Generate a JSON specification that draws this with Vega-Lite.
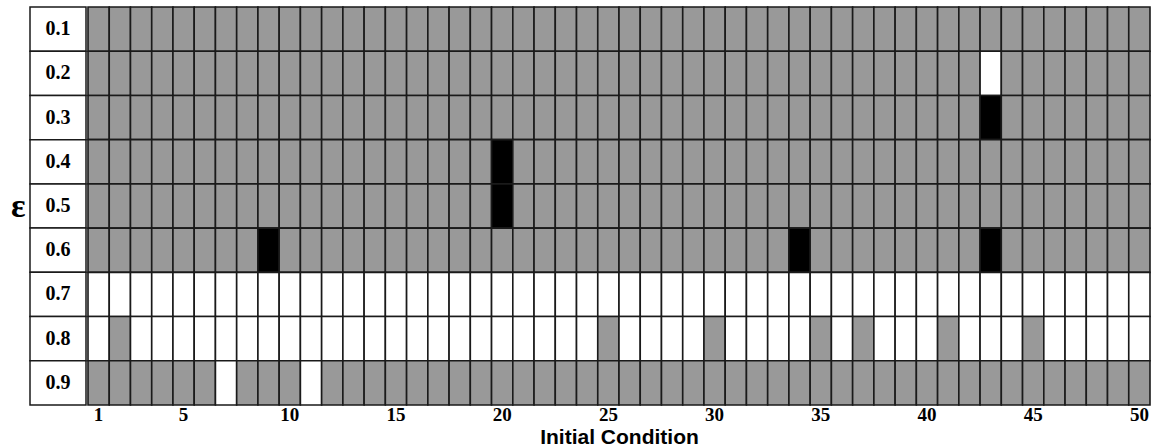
{
"$schema": "https://vega.github.io/schema/vega-lite/v6.json",
"padding": {"left": 10, "top": 6, "right": 0, "bottom": 0},
"spacing": 0,
"config": {"view": {"stroke": null}},
"datasets": {
"labels": [{"eps":"0.1"},{"eps":"0.2"},{"eps":"0.3"},{"eps":"0.4"},{"eps":"0.5"},{"eps":"0.6"},{"eps":"0.7"},{"eps":"0.8"},{"eps":"0.9"}],
"cells": [
{"ic":1,"eps":"0.1","state":"G"},{"ic":2,"eps":"0.1","state":"G"},{"ic":3,"eps":"0.1","state":"G"},{"ic":4,"eps":"0.1","state":"G"},{"ic":5,"eps":"0.1","state":"G"},{"ic":6,"eps":"0.1","state":"G"},{"ic":7,"eps":"0.1","state":"G"},{"ic":8,"eps":"0.1","state":"G"},{"ic":9,"eps":"0.1","state":"G"},{"ic":10,"eps":"0.1","state":"G"},
{"ic":11,"eps":"0.1","state":"G"},{"ic":12,"eps":"0.1","state":"G"},{"ic":13,"eps":"0.1","state":"G"},{"ic":14,"eps":"0.1","state":"G"},{"ic":15,"eps":"0.1","state":"G"},{"ic":16,"eps":"0.1","state":"G"},{"ic":17,"eps":"0.1","state":"G"},{"ic":18,"eps":"0.1","state":"G"},{"ic":19,"eps":"0.1","state":"G"},{"ic":20,"eps":"0.1","state":"G"},
{"ic":21,"eps":"0.1","state":"G"},{"ic":22,"eps":"0.1","state":"G"},{"ic":23,"eps":"0.1","state":"G"},{"ic":24,"eps":"0.1","state":"G"},{"ic":25,"eps":"0.1","state":"G"},{"ic":26,"eps":"0.1","state":"G"},{"ic":27,"eps":"0.1","state":"G"},{"ic":28,"eps":"0.1","state":"G"},{"ic":29,"eps":"0.1","state":"G"},{"ic":30,"eps":"0.1","state":"G"},
{"ic":31,"eps":"0.1","state":"G"},{"ic":32,"eps":"0.1","state":"G"},{"ic":33,"eps":"0.1","state":"G"},{"ic":34,"eps":"0.1","state":"G"},{"ic":35,"eps":"0.1","state":"G"},{"ic":36,"eps":"0.1","state":"G"},{"ic":37,"eps":"0.1","state":"G"},{"ic":38,"eps":"0.1","state":"G"},{"ic":39,"eps":"0.1","state":"G"},{"ic":40,"eps":"0.1","state":"G"},
{"ic":41,"eps":"0.1","state":"G"},{"ic":42,"eps":"0.1","state":"G"},{"ic":43,"eps":"0.1","state":"G"},{"ic":44,"eps":"0.1","state":"G"},{"ic":45,"eps":"0.1","state":"G"},{"ic":46,"eps":"0.1","state":"G"},{"ic":47,"eps":"0.1","state":"G"},{"ic":48,"eps":"0.1","state":"G"},{"ic":49,"eps":"0.1","state":"G"},{"ic":50,"eps":"0.1","state":"G"},
{"ic":1,"eps":"0.2","state":"G"},{"ic":2,"eps":"0.2","state":"G"},{"ic":3,"eps":"0.2","state":"G"},{"ic":4,"eps":"0.2","state":"G"},{"ic":5,"eps":"0.2","state":"G"},{"ic":6,"eps":"0.2","state":"G"},{"ic":7,"eps":"0.2","state":"G"},{"ic":8,"eps":"0.2","state":"G"},{"ic":9,"eps":"0.2","state":"G"},{"ic":10,"eps":"0.2","state":"G"},
{"ic":11,"eps":"0.2","state":"G"},{"ic":12,"eps":"0.2","state":"G"},{"ic":13,"eps":"0.2","state":"G"},{"ic":14,"eps":"0.2","state":"G"},{"ic":15,"eps":"0.2","state":"G"},{"ic":16,"eps":"0.2","state":"G"},{"ic":17,"eps":"0.2","state":"G"},{"ic":18,"eps":"0.2","state":"G"},{"ic":19,"eps":"0.2","state":"G"},{"ic":20,"eps":"0.2","state":"G"},
{"ic":21,"eps":"0.2","state":"G"},{"ic":22,"eps":"0.2","state":"G"},{"ic":23,"eps":"0.2","state":"G"},{"ic":24,"eps":"0.2","state":"G"},{"ic":25,"eps":"0.2","state":"G"},{"ic":26,"eps":"0.2","state":"G"},{"ic":27,"eps":"0.2","state":"G"},{"ic":28,"eps":"0.2","state":"G"},{"ic":29,"eps":"0.2","state":"G"},{"ic":30,"eps":"0.2","state":"G"},
{"ic":31,"eps":"0.2","state":"G"},{"ic":32,"eps":"0.2","state":"G"},{"ic":33,"eps":"0.2","state":"G"},{"ic":34,"eps":"0.2","state":"G"},{"ic":35,"eps":"0.2","state":"G"},{"ic":36,"eps":"0.2","state":"G"},{"ic":37,"eps":"0.2","state":"G"},{"ic":38,"eps":"0.2","state":"G"},{"ic":39,"eps":"0.2","state":"G"},{"ic":40,"eps":"0.2","state":"G"},
{"ic":41,"eps":"0.2","state":"G"},{"ic":42,"eps":"0.2","state":"G"},{"ic":43,"eps":"0.2","state":"W"},{"ic":44,"eps":"0.2","state":"G"},{"ic":45,"eps":"0.2","state":"G"},{"ic":46,"eps":"0.2","state":"G"},{"ic":47,"eps":"0.2","state":"G"},{"ic":48,"eps":"0.2","state":"G"},{"ic":49,"eps":"0.2","state":"G"},{"ic":50,"eps":"0.2","state":"G"},
{"ic":1,"eps":"0.3","state":"G"},{"ic":2,"eps":"0.3","state":"G"},{"ic":3,"eps":"0.3","state":"G"},{"ic":4,"eps":"0.3","state":"G"},{"ic":5,"eps":"0.3","state":"G"},{"ic":6,"eps":"0.3","state":"G"},{"ic":7,"eps":"0.3","state":"G"},{"ic":8,"eps":"0.3","state":"G"},{"ic":9,"eps":"0.3","state":"G"},{"ic":10,"eps":"0.3","state":"G"},
{"ic":11,"eps":"0.3","state":"G"},{"ic":12,"eps":"0.3","state":"G"},{"ic":13,"eps":"0.3","state":"G"},{"ic":14,"eps":"0.3","state":"G"},{"ic":15,"eps":"0.3","state":"G"},{"ic":16,"eps":"0.3","state":"G"},{"ic":17,"eps":"0.3","state":"G"},{"ic":18,"eps":"0.3","state":"G"},{"ic":19,"eps":"0.3","state":"G"},{"ic":20,"eps":"0.3","state":"G"},
{"ic":21,"eps":"0.3","state":"G"},{"ic":22,"eps":"0.3","state":"G"},{"ic":23,"eps":"0.3","state":"G"},{"ic":24,"eps":"0.3","state":"G"},{"ic":25,"eps":"0.3","state":"G"},{"ic":26,"eps":"0.3","state":"G"},{"ic":27,"eps":"0.3","state":"G"},{"ic":28,"eps":"0.3","state":"G"},{"ic":29,"eps":"0.3","state":"G"},{"ic":30,"eps":"0.3","state":"G"},
{"ic":31,"eps":"0.3","state":"G"},{"ic":32,"eps":"0.3","state":"G"},{"ic":33,"eps":"0.3","state":"G"},{"ic":34,"eps":"0.3","state":"G"},{"ic":35,"eps":"0.3","state":"G"},{"ic":36,"eps":"0.3","state":"G"},{"ic":37,"eps":"0.3","state":"G"},{"ic":38,"eps":"0.3","state":"G"},{"ic":39,"eps":"0.3","state":"G"},{"ic":40,"eps":"0.3","state":"G"},
{"ic":41,"eps":"0.3","state":"G"},{"ic":42,"eps":"0.3","state":"G"},{"ic":43,"eps":"0.3","state":"B"},{"ic":44,"eps":"0.3","state":"G"},{"ic":45,"eps":"0.3","state":"G"},{"ic":46,"eps":"0.3","state":"G"},{"ic":47,"eps":"0.3","state":"G"},{"ic":48,"eps":"0.3","state":"G"},{"ic":49,"eps":"0.3","state":"G"},{"ic":50,"eps":"0.3","state":"G"},
{"ic":1,"eps":"0.4","state":"G"},{"ic":2,"eps":"0.4","state":"G"},{"ic":3,"eps":"0.4","state":"G"},{"ic":4,"eps":"0.4","state":"G"},{"ic":5,"eps":"0.4","state":"G"},{"ic":6,"eps":"0.4","state":"G"},{"ic":7,"eps":"0.4","state":"G"},{"ic":8,"eps":"0.4","state":"G"},{"ic":9,"eps":"0.4","state":"G"},{"ic":10,"eps":"0.4","state":"G"},
{"ic":11,"eps":"0.4","state":"G"},{"ic":12,"eps":"0.4","state":"G"},{"ic":13,"eps":"0.4","state":"G"},{"ic":14,"eps":"0.4","state":"G"},{"ic":15,"eps":"0.4","state":"G"},{"ic":16,"eps":"0.4","state":"G"},{"ic":17,"eps":"0.4","state":"G"},{"ic":18,"eps":"0.4","state":"G"},{"ic":19,"eps":"0.4","state":"G"},{"ic":20,"eps":"0.4","state":"B"},
{"ic":21,"eps":"0.4","state":"G"},{"ic":22,"eps":"0.4","state":"G"},{"ic":23,"eps":"0.4","state":"G"},{"ic":24,"eps":"0.4","state":"G"},{"ic":25,"eps":"0.4","state":"G"},{"ic":26,"eps":"0.4","state":"G"},{"ic":27,"eps":"0.4","state":"G"},{"ic":28,"eps":"0.4","state":"G"},{"ic":29,"eps":"0.4","state":"G"},{"ic":30,"eps":"0.4","state":"G"},
{"ic":31,"eps":"0.4","state":"G"},{"ic":32,"eps":"0.4","state":"G"},{"ic":33,"eps":"0.4","state":"G"},{"ic":34,"eps":"0.4","state":"G"},{"ic":35,"eps":"0.4","state":"G"},{"ic":36,"eps":"0.4","state":"G"},{"ic":37,"eps":"0.4","state":"G"},{"ic":38,"eps":"0.4","state":"G"},{"ic":39,"eps":"0.4","state":"G"},{"ic":40,"eps":"0.4","state":"G"},
{"ic":41,"eps":"0.4","state":"G"},{"ic":42,"eps":"0.4","state":"G"},{"ic":43,"eps":"0.4","state":"G"},{"ic":44,"eps":"0.4","state":"G"},{"ic":45,"eps":"0.4","state":"G"},{"ic":46,"eps":"0.4","state":"G"},{"ic":47,"eps":"0.4","state":"G"},{"ic":48,"eps":"0.4","state":"G"},{"ic":49,"eps":"0.4","state":"G"},{"ic":50,"eps":"0.4","state":"G"},
{"ic":1,"eps":"0.5","state":"G"},{"ic":2,"eps":"0.5","state":"G"},{"ic":3,"eps":"0.5","state":"G"},{"ic":4,"eps":"0.5","state":"G"},{"ic":5,"eps":"0.5","state":"G"},{"ic":6,"eps":"0.5","state":"G"},{"ic":7,"eps":"0.5","state":"G"},{"ic":8,"eps":"0.5","state":"G"},{"ic":9,"eps":"0.5","state":"G"},{"ic":10,"eps":"0.5","state":"G"},
{"ic":11,"eps":"0.5","state":"G"},{"ic":12,"eps":"0.5","state":"G"},{"ic":13,"eps":"0.5","state":"G"},{"ic":14,"eps":"0.5","state":"G"},{"ic":15,"eps":"0.5","state":"G"},{"ic":16,"eps":"0.5","state":"G"},{"ic":17,"eps":"0.5","state":"G"},{"ic":18,"eps":"0.5","state":"G"},{"ic":19,"eps":"0.5","state":"G"},{"ic":20,"eps":"0.5","state":"B"},
{"ic":21,"eps":"0.5","state":"G"},{"ic":22,"eps":"0.5","state":"G"},{"ic":23,"eps":"0.5","state":"G"},{"ic":24,"eps":"0.5","state":"G"},{"ic":25,"eps":"0.5","state":"G"},{"ic":26,"eps":"0.5","state":"G"},{"ic":27,"eps":"0.5","state":"G"},{"ic":28,"eps":"0.5","state":"G"},{"ic":29,"eps":"0.5","state":"G"},{"ic":30,"eps":"0.5","state":"G"},
{"ic":31,"eps":"0.5","state":"G"},{"ic":32,"eps":"0.5","state":"G"},{"ic":33,"eps":"0.5","state":"G"},{"ic":34,"eps":"0.5","state":"G"},{"ic":35,"eps":"0.5","state":"G"},{"ic":36,"eps":"0.5","state":"G"},{"ic":37,"eps":"0.5","state":"G"},{"ic":38,"eps":"0.5","state":"G"},{"ic":39,"eps":"0.5","state":"G"},{"ic":40,"eps":"0.5","state":"G"},
{"ic":41,"eps":"0.5","state":"G"},{"ic":42,"eps":"0.5","state":"G"},{"ic":43,"eps":"0.5","state":"G"},{"ic":44,"eps":"0.5","state":"G"},{"ic":45,"eps":"0.5","state":"G"},{"ic":46,"eps":"0.5","state":"G"},{"ic":47,"eps":"0.5","state":"G"},{"ic":48,"eps":"0.5","state":"G"},{"ic":49,"eps":"0.5","state":"G"},{"ic":50,"eps":"0.5","state":"G"},
{"ic":1,"eps":"0.6","state":"G"},{"ic":2,"eps":"0.6","state":"G"},{"ic":3,"eps":"0.6","state":"G"},{"ic":4,"eps":"0.6","state":"G"},{"ic":5,"eps":"0.6","state":"G"},{"ic":6,"eps":"0.6","state":"G"},{"ic":7,"eps":"0.6","state":"G"},{"ic":8,"eps":"0.6","state":"G"},{"ic":9,"eps":"0.6","state":"B"},{"ic":10,"eps":"0.6","state":"G"},
{"ic":11,"eps":"0.6","state":"G"},{"ic":12,"eps":"0.6","state":"G"},{"ic":13,"eps":"0.6","state":"G"},{"ic":14,"eps":"0.6","state":"G"},{"ic":15,"eps":"0.6","state":"G"},{"ic":16,"eps":"0.6","state":"G"},{"ic":17,"eps":"0.6","state":"G"},{"ic":18,"eps":"0.6","state":"G"},{"ic":19,"eps":"0.6","state":"G"},{"ic":20,"eps":"0.6","state":"G"},
{"ic":21,"eps":"0.6","state":"G"},{"ic":22,"eps":"0.6","state":"G"},{"ic":23,"eps":"0.6","state":"G"},{"ic":24,"eps":"0.6","state":"G"},{"ic":25,"eps":"0.6","state":"G"},{"ic":26,"eps":"0.6","state":"G"},{"ic":27,"eps":"0.6","state":"G"},{"ic":28,"eps":"0.6","state":"G"},{"ic":29,"eps":"0.6","state":"G"},{"ic":30,"eps":"0.6","state":"G"},
{"ic":31,"eps":"0.6","state":"G"},{"ic":32,"eps":"0.6","state":"G"},{"ic":33,"eps":"0.6","state":"G"},{"ic":34,"eps":"0.6","state":"B"},{"ic":35,"eps":"0.6","state":"G"},{"ic":36,"eps":"0.6","state":"G"},{"ic":37,"eps":"0.6","state":"G"},{"ic":38,"eps":"0.6","state":"G"},{"ic":39,"eps":"0.6","state":"G"},{"ic":40,"eps":"0.6","state":"G"},
{"ic":41,"eps":"0.6","state":"G"},{"ic":42,"eps":"0.6","state":"G"},{"ic":43,"eps":"0.6","state":"B"},{"ic":44,"eps":"0.6","state":"G"},{"ic":45,"eps":"0.6","state":"G"},{"ic":46,"eps":"0.6","state":"G"},{"ic":47,"eps":"0.6","state":"G"},{"ic":48,"eps":"0.6","state":"G"},{"ic":49,"eps":"0.6","state":"G"},{"ic":50,"eps":"0.6","state":"G"},
{"ic":1,"eps":"0.7","state":"W"},{"ic":2,"eps":"0.7","state":"W"},{"ic":3,"eps":"0.7","state":"W"},{"ic":4,"eps":"0.7","state":"W"},{"ic":5,"eps":"0.7","state":"W"},{"ic":6,"eps":"0.7","state":"W"},{"ic":7,"eps":"0.7","state":"W"},{"ic":8,"eps":"0.7","state":"W"},{"ic":9,"eps":"0.7","state":"W"},{"ic":10,"eps":"0.7","state":"W"},
{"ic":11,"eps":"0.7","state":"W"},{"ic":12,"eps":"0.7","state":"W"},{"ic":13,"eps":"0.7","state":"W"},{"ic":14,"eps":"0.7","state":"W"},{"ic":15,"eps":"0.7","state":"W"},{"ic":16,"eps":"0.7","state":"W"},{"ic":17,"eps":"0.7","state":"W"},{"ic":18,"eps":"0.7","state":"W"},{"ic":19,"eps":"0.7","state":"W"},{"ic":20,"eps":"0.7","state":"W"},
{"ic":21,"eps":"0.7","state":"W"},{"ic":22,"eps":"0.7","state":"W"},{"ic":23,"eps":"0.7","state":"W"},{"ic":24,"eps":"0.7","state":"W"},{"ic":25,"eps":"0.7","state":"W"},{"ic":26,"eps":"0.7","state":"W"},{"ic":27,"eps":"0.7","state":"W"},{"ic":28,"eps":"0.7","state":"W"},{"ic":29,"eps":"0.7","state":"W"},{"ic":30,"eps":"0.7","state":"W"},
{"ic":31,"eps":"0.7","state":"W"},{"ic":32,"eps":"0.7","state":"W"},{"ic":33,"eps":"0.7","state":"W"},{"ic":34,"eps":"0.7","state":"W"},{"ic":35,"eps":"0.7","state":"W"},{"ic":36,"eps":"0.7","state":"W"},{"ic":37,"eps":"0.7","state":"W"},{"ic":38,"eps":"0.7","state":"W"},{"ic":39,"eps":"0.7","state":"W"},{"ic":40,"eps":"0.7","state":"W"},
{"ic":41,"eps":"0.7","state":"W"},{"ic":42,"eps":"0.7","state":"W"},{"ic":43,"eps":"0.7","state":"W"},{"ic":44,"eps":"0.7","state":"W"},{"ic":45,"eps":"0.7","state":"W"},{"ic":46,"eps":"0.7","state":"W"},{"ic":47,"eps":"0.7","state":"W"},{"ic":48,"eps":"0.7","state":"W"},{"ic":49,"eps":"0.7","state":"W"},{"ic":50,"eps":"0.7","state":"W"},
{"ic":1,"eps":"0.8","state":"W"},{"ic":2,"eps":"0.8","state":"G"},{"ic":3,"eps":"0.8","state":"W"},{"ic":4,"eps":"0.8","state":"W"},{"ic":5,"eps":"0.8","state":"W"},{"ic":6,"eps":"0.8","state":"W"},{"ic":7,"eps":"0.8","state":"W"},{"ic":8,"eps":"0.8","state":"W"},{"ic":9,"eps":"0.8","state":"W"},{"ic":10,"eps":"0.8","state":"W"},
{"ic":11,"eps":"0.8","state":"W"},{"ic":12,"eps":"0.8","state":"W"},{"ic":13,"eps":"0.8","state":"W"},{"ic":14,"eps":"0.8","state":"W"},{"ic":15,"eps":"0.8","state":"W"},{"ic":16,"eps":"0.8","state":"W"},{"ic":17,"eps":"0.8","state":"W"},{"ic":18,"eps":"0.8","state":"W"},{"ic":19,"eps":"0.8","state":"W"},{"ic":20,"eps":"0.8","state":"W"},
{"ic":21,"eps":"0.8","state":"W"},{"ic":22,"eps":"0.8","state":"W"},{"ic":23,"eps":"0.8","state":"W"},{"ic":24,"eps":"0.8","state":"W"},{"ic":25,"eps":"0.8","state":"G"},{"ic":26,"eps":"0.8","state":"W"},{"ic":27,"eps":"0.8","state":"W"},{"ic":28,"eps":"0.8","state":"W"},{"ic":29,"eps":"0.8","state":"W"},{"ic":30,"eps":"0.8","state":"G"},
{"ic":31,"eps":"0.8","state":"W"},{"ic":32,"eps":"0.8","state":"W"},{"ic":33,"eps":"0.8","state":"W"},{"ic":34,"eps":"0.8","state":"W"},{"ic":35,"eps":"0.8","state":"G"},{"ic":36,"eps":"0.8","state":"W"},{"ic":37,"eps":"0.8","state":"G"},{"ic":38,"eps":"0.8","state":"W"},{"ic":39,"eps":"0.8","state":"W"},{"ic":40,"eps":"0.8","state":"W"},
{"ic":41,"eps":"0.8","state":"G"},{"ic":42,"eps":"0.8","state":"W"},{"ic":43,"eps":"0.8","state":"W"},{"ic":44,"eps":"0.8","state":"W"},{"ic":45,"eps":"0.8","state":"G"},{"ic":46,"eps":"0.8","state":"W"},{"ic":47,"eps":"0.8","state":"W"},{"ic":48,"eps":"0.8","state":"W"},{"ic":49,"eps":"0.8","state":"W"},{"ic":50,"eps":"0.8","state":"W"},
{"ic":1,"eps":"0.9","state":"G"},{"ic":2,"eps":"0.9","state":"G"},{"ic":3,"eps":"0.9","state":"G"},{"ic":4,"eps":"0.9","state":"G"},{"ic":5,"eps":"0.9","state":"G"},{"ic":6,"eps":"0.9","state":"G"},{"ic":7,"eps":"0.9","state":"W"},{"ic":8,"eps":"0.9","state":"G"},{"ic":9,"eps":"0.9","state":"G"},{"ic":10,"eps":"0.9","state":"G"},
{"ic":11,"eps":"0.9","state":"W"},{"ic":12,"eps":"0.9","state":"G"},{"ic":13,"eps":"0.9","state":"G"},{"ic":14,"eps":"0.9","state":"G"},{"ic":15,"eps":"0.9","state":"G"},{"ic":16,"eps":"0.9","state":"G"},{"ic":17,"eps":"0.9","state":"G"},{"ic":18,"eps":"0.9","state":"G"},{"ic":19,"eps":"0.9","state":"G"},{"ic":20,"eps":"0.9","state":"G"},
{"ic":21,"eps":"0.9","state":"G"},{"ic":22,"eps":"0.9","state":"G"},{"ic":23,"eps":"0.9","state":"G"},{"ic":24,"eps":"0.9","state":"G"},{"ic":25,"eps":"0.9","state":"G"},{"ic":26,"eps":"0.9","state":"G"},{"ic":27,"eps":"0.9","state":"G"},{"ic":28,"eps":"0.9","state":"G"},{"ic":29,"eps":"0.9","state":"G"},{"ic":30,"eps":"0.9","state":"G"},
{"ic":31,"eps":"0.9","state":"G"},{"ic":32,"eps":"0.9","state":"G"},{"ic":33,"eps":"0.9","state":"G"},{"ic":34,"eps":"0.9","state":"G"},{"ic":35,"eps":"0.9","state":"G"},{"ic":36,"eps":"0.9","state":"G"},{"ic":37,"eps":"0.9","state":"G"},{"ic":38,"eps":"0.9","state":"G"},{"ic":39,"eps":"0.9","state":"G"},{"ic":40,"eps":"0.9","state":"G"},
{"ic":41,"eps":"0.9","state":"G"},{"ic":42,"eps":"0.9","state":"G"},{"ic":43,"eps":"0.9","state":"G"},{"ic":44,"eps":"0.9","state":"G"},{"ic":45,"eps":"0.9","state":"G"},{"ic":46,"eps":"0.9","state":"G"},{"ic":47,"eps":"0.9","state":"G"},{"ic":48,"eps":"0.9","state":"G"},{"ic":49,"eps":"0.9","state":"G"},{"ic":50,"eps":"0.9","state":"G"}
]
},
"hconcat": [
{
"width": 56, "height": 398,
"data": {"name": "labels"},
"layer": [
{"mark": {"type": "rect", "fill": "#ffffff", "stroke": "#1a1a1a", "strokeWidth": 1.5},
 "encoding": {"y": {"field": "eps", "type": "ordinal", "scale": {"paddingInner": 0, "paddingOuter": 0},
   "axis": {"labels": false, "ticks": false, "domain": false, "title": "ε", "titleAngle": 0, "titleFontSize": 34, "titleFont": "Liberation Serif", "titleFontWeight": "bold", "titleColor": "#000000", "titlePadding": 5, "titleBaseline": "middle", "titleAlign": "right"}}}},
{"mark": {"type": "text", "font": "Liberation Serif", "fontWeight": "bold", "fontSize": 20, "color": "#000000"},
 "encoding": {"y": {"field": "eps", "type": "ordinal"}, "text": {"field": "eps"}}}
]
},
{
"width": 1062, "height": 398,
"data": {"name": "cells"},
"mark": {"type": "rect", "stroke": "#1a1a1a", "strokeWidth": 1.6},
"encoding": {
 "x": {"field": "ic", "type": "ordinal", "scale": {"paddingInner": 0, "paddingOuter": 0},
   "axis": {"values": [1,5,10,15,20,25,30,35,40,45,50], "labelAngle": 0, "ticks": false, "domain": false, "labelFont": "Liberation Serif", "labelFontWeight": "bold", "labelFontSize": 19, "labelColor": "#000000", "labelPadding": 0,
     "title": "Initial Condition", "titleFont": "Liberation Sans", "titleFontSize": 21, "titleFontWeight": "bold", "titleColor": "#000000", "titlePadding": 2}},
 "y": {"field": "eps", "type": "ordinal", "scale": {"paddingInner": 0, "paddingOuter": 0}, "axis": null},
 "color": {"field": "state", "type": "nominal", "scale": {"domain": ["G", "W", "B"], "range": ["#999999", "#ffffff", "#000000"]}, "legend": null}
}
}
]
}
